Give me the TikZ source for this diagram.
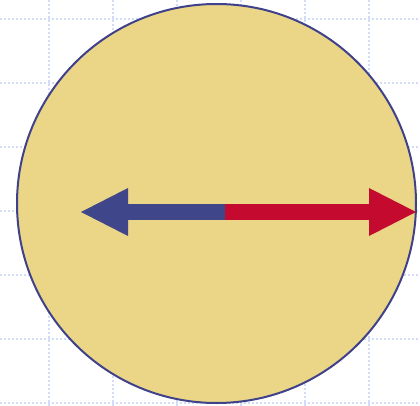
\documentclass[tikz,border=0pt]{standalone}
\usetikzlibrary{arrows.meta}
\definecolor{gridblue}{HTML}{D2DCF8}
\definecolor{sand}{HTML}{EAD686}
\definecolor{ink}{HTML}{3F428A}
\definecolor{arrowblue}{HTML}{40468A}
\definecolor{crimson}{HTML}{C40A2F}

\begin{document}
\begin{tikzpicture}[
  x=1pt, y=-1pt,
  vec/.style={line width=16.7pt,
    -{Triangle[length=47pt, width=48pt, line width=0pt]}}
]

% Canvas
\useasboundingbox (0,0) rectangle (420,406);

% ── Background grid ──
\foreach \gx in {49,113,...,433}
  \draw[gridblue, line width=1.3pt, dash pattern=on 2pt off 2pt] (\gx,0) -- (\gx,406);
\foreach \gy in {19,83,...,406}
  \draw[gridblue, line width=1.3pt, dash pattern=on 2pt off 2pt] (0,\gy) -- (420,\gy);

% ── Disc ──
\coordinate (c) at (216.5,203.5);
\filldraw[fill=sand, draw=ink, line width=2pt] (c) circle (199.5);

% ── Vectors from a common tail ──
\coordinate (o) at (225,212);
\coordinate (tipL) at (81,212);
\coordinate (tipR) at (416,212);
\draw[vec, crimson] (o) -- (tipR);
\draw[vec, arrowblue] (o) -- (tipL);

\end{tikzpicture}
\end{document}
